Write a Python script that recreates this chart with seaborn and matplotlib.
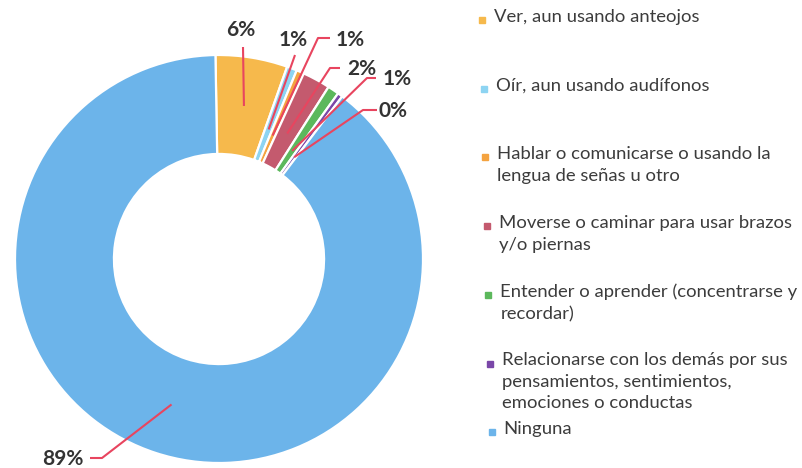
import matplotlib
matplotlib.use("Agg")
import matplotlib.pyplot as plt
import seaborn as sns
import numpy as np

# ---- data ----
categories = [
    "Ver, aun usando anteojos",
    "Oír, aun usando audífonos",
    "Hablar o comunicarse o usando la\nlengua de señas u otro",
    "Moverse o caminar para usar brazos\ny/o piernas",
    "Entender o aprender (concentrarse y\nrecordar)",
    "Relacionarse con los demás por sus\npensamientos, sentimientos,\nemociones o conductas",
    "Ninguna",
]
values = [5.7, 0.8, 0.6, 2.2, 0.9, 0.4, 89.4]
colors = ["#F6B94C", "#8DD4F2", "#F4A340", "#C45A6E", "#5CB85C", "#7A47A8", "#6CB4EA"]

sns.set_theme(style="white")
plt.rcParams["font.family"] = ["Lato", "DejaVu Sans"]

W, H = 803, 468
fig = plt.figure(figsize=(W / 100, H / 100), dpi=100)
fig.patch.set_facecolor("white")

cx, cy, R = 219, 259, 204
ax = fig.add_axes([(cx - R) / W, (H - cy - R) / H, 2 * R / W, 2 * R / H])

wedges, _ = ax.pie(
    values, colors=colors, startangle=91, counterclock=False, radius=1.0,
    wedgeprops=dict(width=0.485, edgecolor="white", linewidth=1.6),
)
ax.set_xlim(-1, 1)
ax.set_ylim(-1, 1)
ax.set_aspect("equal")
ax.axis("off")

def px(xp, yp):
    return ((xp - cx) / R, (cy - yp) / R)

# label layout: (elbow point px, end point px, label position px, start radius)
layout = [
    ((243, 47), (243, 47), (241, 30), 0.76),
    ((295, 55), (295, 55), (293, 40), 0.68),
    ((318, 38), (330, 38), (350, 40), 0.66),
    ((330, 68), (340, 68), (362, 69), 0.70),
    ((367, 78), (376, 78), (397, 79), 0.64),
    ((363, 110), (377, 110), (393, 111), 0.62),
    ((102, 458), (90, 458), (63, 459), 0.75),
]
lead = "#E8455F"
for w, v, (elb, end, lab, rs) in zip(wedges, values, layout):
    ang = np.deg2rad((w.theta1 + w.theta2) / 2)
    sx, sy = rs * np.cos(ang), rs * np.sin(ang)
    ex, ey = px(*elb)
    fx, fy = px(*end)
    ax.plot([sx, ex, fx], [sy, ey, fy], color=lead, lw=1.5, clip_on=False,
            solid_capstyle="butt")
    lx, ly = px(*lab)
    ax.text(lx, ly, f"{v:.0f}%", ha="center", va="center", fontsize=15,
            fontweight="bold", color="#333333", clip_on=False)

# legend (manual, Excel-like slots)
for i, (lab, col) in enumerate(zip(categories, colors)):
    y = 20 + 68.7 * i
    xm = 482 + 1.6 * i
    fig.patches.append(plt.Rectangle(((xm - 3) / W, (H - y - 3) / H), 6 / W, 6 / H,
                                     transform=fig.transFigure, color=col))
    fig.text((xm + 12) / W, (H - y + 11) / H, lab, ha="left", va="top",
             fontsize=13.3, color="#3c3c3c", linespacing=1.42,
             transform=fig.transFigure)

fig.savefig("out.png", dpi=100, facecolor="white")
